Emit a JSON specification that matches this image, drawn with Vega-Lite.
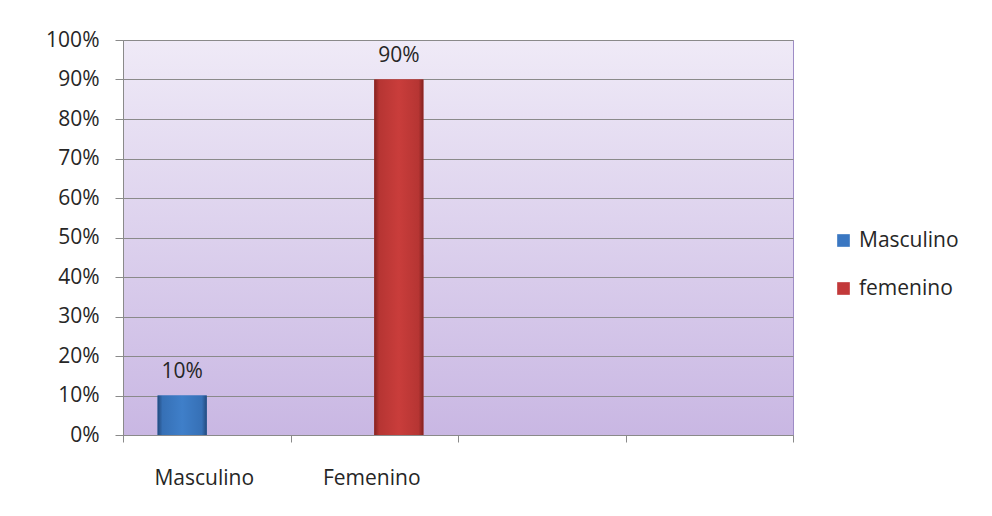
{
  "$schema": "https://vega.github.io/schema/vega-lite/v6.json",
  "autosize": {"type": "none"},
  "padding": {"left": 123, "top": 40, "right": 199, "bottom": 81},
  "width": 670,
  "height": 395,
  "background": "#ffffff",
  "config": {
    "font": "Open Sans",
    "view": {
      "fill": {"gradient": "linear", "x1": 0, "y1": 0, "x2": 0, "y2": 1,
        "stops": [{"offset": 0, "color": "#efeaf7"}, {"offset": 1, "color": "#c9b7e3"}]},
      "stroke": "#9e8cc6",
      "strokeWidth": 1
    },
    "axis": {
      "labelFont": "Open Sans",
      "labelFontSize": 21,
      "labelColor": "#262626",
      "domainColor": "#8a8a8a",
      "tickColor": "#8a8a8a",
      "gridColor": "#8a8a8a",
      "title": null
    }
  },
  "data": {
    "values": [
      {"categoria": "Masculino", "serie": "Masculino", "valor": 0.10},
      {"categoria": "Femenino", "serie": "femenino", "valor": 0.90}
    ]
  },
  "encoding": {
    "x": {
      "field": "categoria", "type": "nominal",
      "scale": {"domain": ["Masculino", "Femenino", "c3", "c4"], "paddingInner": 0, "paddingOuter": 0},
      "axis": {
        "labelAngle": 0, "tickBand": "extent", "tickSize": 7, "labelPadding": 25, "labelOffset": -3,
        "labelExpr": "indexof(['Masculino','Femenino'], datum.value) >= 0 ? datum.value : ''",
        "grid": false
      }
    },
    "xOffset": {
      "field": "serie", "type": "nominal",
      "scale": {"domain": ["Masculino", "femenino"], "paddingInner": 0, "paddingOuter": 0.704}
    },
    "y": {
      "field": "valor", "type": "quantitative",
      "scale": {"domain": [0, 1], "nice": false},
      "axis": {
        "values": [0, 0.1, 0.2, 0.3, 0.4, 0.5, 0.6, 0.7, 0.8, 0.9, 1],
        "format": ".0%", "tickSize": 8, "labelPadding": 16, "grid": true
      }
    }
  },
  "layer": [
    {
      "mark": {"type": "bar"},
      "encoding": {
        "fill": {
          "field": "serie", "type": "nominal",
          "scale": {"domain": ["Masculino", "femenino"], "range": ["#3a77c2", "#c2393a"]},
          "legend": {
            "title": null,
            "orient": "none",
            "legendX": 710,
            "legendY": 190,
            "padding": 0,
            "symbolType": "square",
            "symbolSize": 160,
            "symbolStrokeWidth": 0,
            "labelFont": "Open Sans",
            "labelFontSize": 21,
            "labelColor": "#262626",
            "labelOffset": 5,
            "rowPadding": 26
          }
        }
      }
    },
    {
      "mark": {"type": "bar"},
      "encoding": {
        "fill": {
          "condition": {
            "test": "datum.serie === 'Masculino'",
            "value": {"gradient": "linear", "x1": 0, "y1": 0, "x2": 1, "y2": 0,
              "stops": [{"offset": 0, "color": "#234a7d"}, {"offset": 0.1, "color": "#3670b6"}, {"offset": 0.5, "color": "#3f7fc9"}, {"offset": 0.9, "color": "#3670b6"}, {"offset": 1, "color": "#234a7d"}]}
          },
          "value": {"gradient": "linear", "x1": 0, "y1": 0, "x2": 1, "y2": 0,
            "stops": [{"offset": 0, "color": "#832220"}, {"offset": 0.1, "color": "#b63533"}, {"offset": 0.5, "color": "#c93d3b"}, {"offset": 0.9, "color": "#b63533"}, {"offset": 1, "color": "#832220"}]}
        }
      }
    },
    {
      "mark": {"type": "text", "baseline": "alphabetic", "dy": -18, "fontSize": 21, "font": "Open Sans", "color": "#262626"},
      "encoding": {
        "text": {"field": "valor", "type": "quantitative", "format": ".0%"}
      }
    }
  ]
}
